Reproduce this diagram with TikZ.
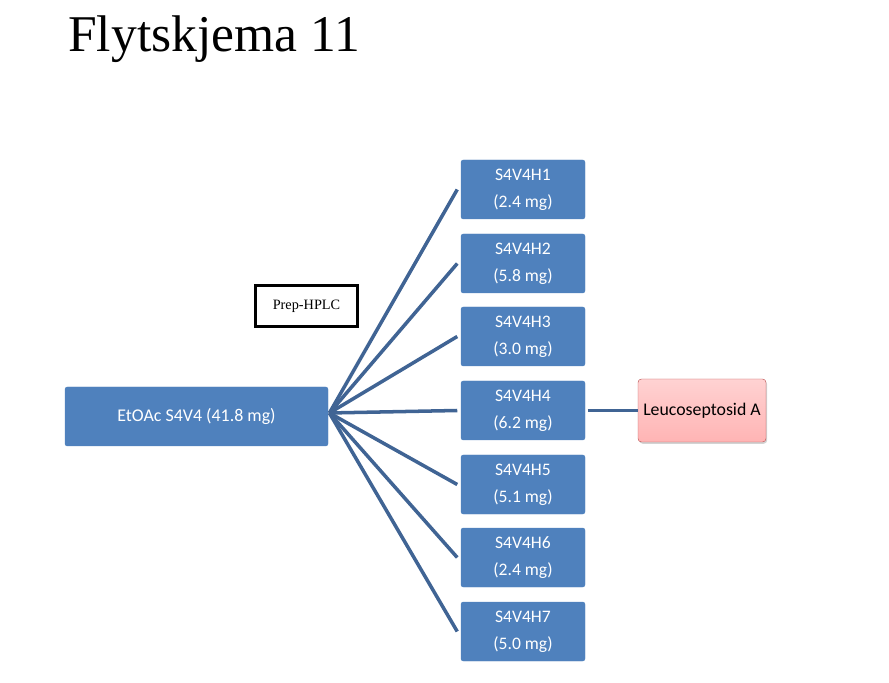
\documentclass[tikz,border=0pt]{standalone}
\usepackage{fontspec}
\setmainfont{Carlito}
\newfontfamily\titlefont{Liberation Serif}
\usepackage{tikz}
\usetikzlibrary{positioning,shadows}
\definecolor{boxblue}{RGB}{79, 129, 189}
\definecolor{lineblue}{RGB}{64, 100, 148}
\definecolor{pinkfill}{RGB}{255, 180, 180}
\definecolor{pinkline}{RGB}{190, 90, 90}

\begin{document}
\begin{tikzpicture}[x=0.03cm, y=-0.03cm,
  sample/.style={fill=boxblue, draw=boxblue, rounded corners=2pt, minimum width=263*0.03cm, minimum height=59*0.03cm, text=white, font=\fontsize{15.3}{17}\selectfont},
  fraction/.style={fill=boxblue, draw=boxblue, rounded corners=2pt, minimum width=124*0.03cm, minimum height=59*0.03cm, text=white, align=center, font=\fontsize{15}{23}\selectfont},
  product/.style={top color=pinkfill!60, bottom color=pinkfill, draw=pinkline, rounded corners=3pt, minimum width=128*0.03cm, minimum height=63*0.03cm, drop shadow={opacity=0.35, shadow xshift=1pt, shadow yshift=-1.5pt}, font=\fontsize{15.2}{17}\selectfont},
  method/.style={draw=black, line width=2.5pt, fill=white, minimum width=102*0.03cm, minimum height=41*0.03cm, font=\titlefont\fontsize{12.2}{14}\selectfont},
  split/.style={draw=lineblue, line width=3pt}
]
\useasboundingbox (0,0) rectangle (889,683);

\node[anchor=base west, inner sep=0pt, font=\titlefont\fontsize{44}{50}\selectfont] (title) at (68,52) {Flytskjema 11};

\node[sample] (start) at (196.5,416.5) {EtOAc S4V4 (41.8 mg)};
\node[method] (hplc) at (306.5,306) {Prep-HPLC};

\node[fraction] (h1) at (523,189.5) {S4V4H1\\(2.4 mg)};
\node[fraction] (h2) at (523,263.5) {S4V4H2\\(5.8 mg)};
\node[fraction] (h3) at (523,336.5) {S4V4H3\\(3.0 mg)};
\node[fraction] (h4) at (523,410.5) {S4V4H4\\(6.2 mg)};
\node[fraction] (h5) at (523,484.5) {S4V4H5\\(5.1 mg)};
\node[fraction] (h6) at (523,557.5) {S4V4H6\\(2.4 mg)};
\node[fraction] (h7) at (523,631.5) {S4V4H7\\(5.0 mg)};

\node[product] (leuco) at (702,410.5) {Leucoseptosid A};

\coordinate (fork) at ([xshift=1pt,yshift=3pt]start.east);
\foreach \f in {h1,h2,h3,h4,h5,h6,h7}
  \draw[split] (fork) -- ([xshift=-3pt]\f.west);
\draw[split] ([xshift=2pt]h4.east) -- (leuco.west);
\end{tikzpicture}
\end{document}
